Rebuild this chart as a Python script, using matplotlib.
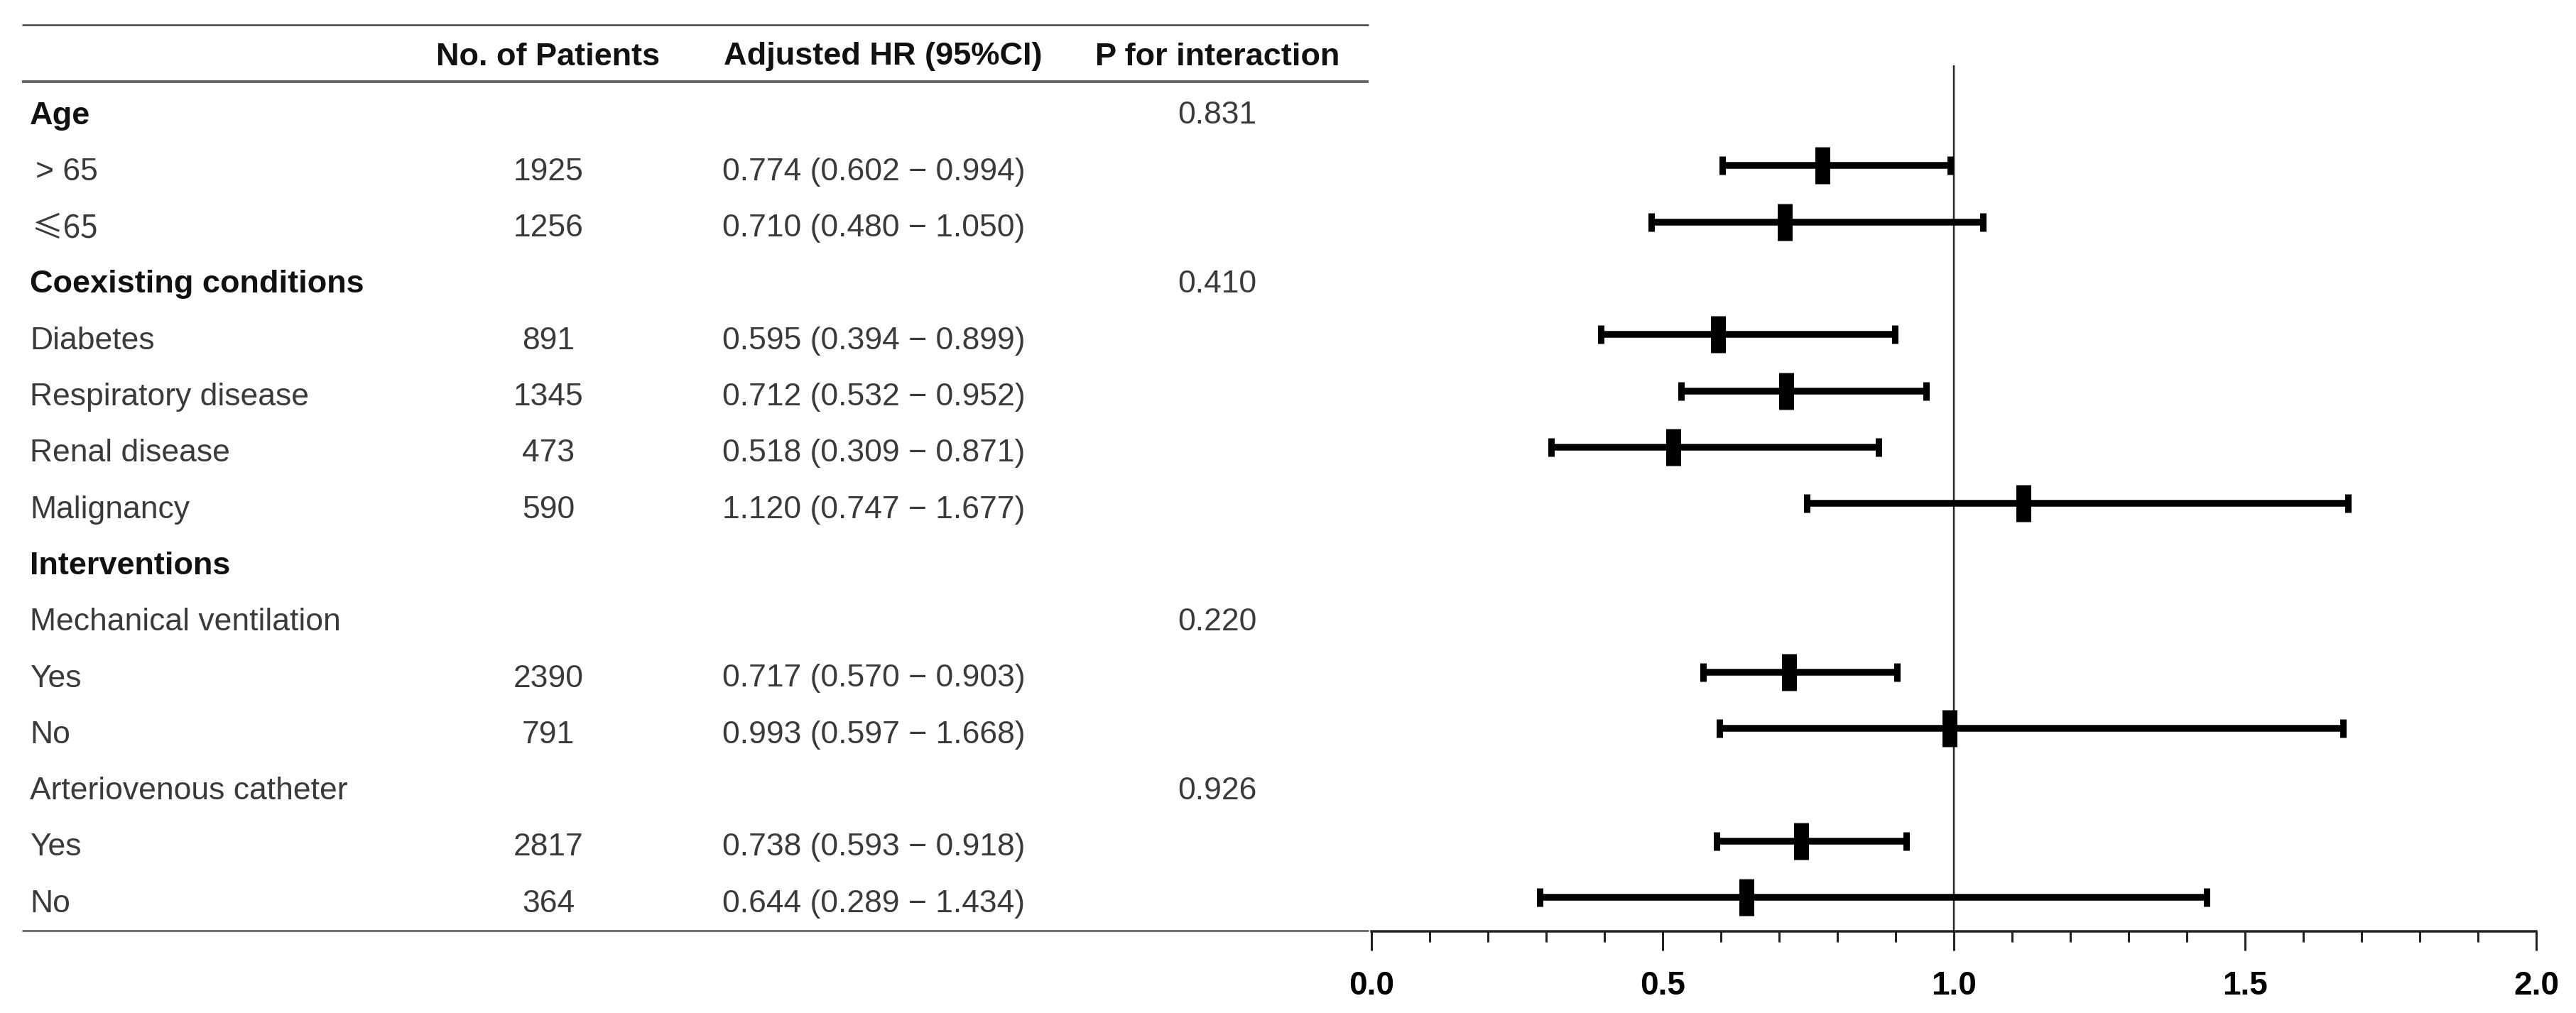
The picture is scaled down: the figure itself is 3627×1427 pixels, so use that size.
import numpy as np
import matplotlib
matplotlib.use("Agg")
import matplotlib.pyplot as plt
from matplotlib.ticker import MultipleLocator

# ---------------- data ----------------
labels = ["Age", "> 65", "≤65", "Coexisting conditions", "Diabetes",
          "Respiratory disease", "Renal disease", "Malignancy", "Interventions",
          "Mechanical ventilation", "Yes", "No", "Arteriovenous catheter", "Yes", "No"]
is_header = [True, False, False, True, False, False, False, False, True,
             False, False, False, False, False, False]
n_patients = ["", "1925", "1256", "", "891", "1345", "473", "590", "", "",
              "2390", "791", "", "2817", "364"]
hr = [np.nan, 0.774, 0.710, np.nan, 0.595, 0.712, 0.518, 1.120, np.nan, np.nan,
      0.717, 0.993, np.nan, 0.738, 0.644]
ci_low = [np.nan, 0.602, 0.480, np.nan, 0.394, 0.532, 0.309, 0.747, np.nan, np.nan,
          0.570, 0.597, np.nan, 0.593, 0.289]
ci_high = [np.nan, 0.994, 1.050, np.nan, 0.899, 0.952, 0.871, 1.677, np.nan, np.nan,
           0.903, 1.668, np.nan, 0.918, 1.434]
p_interaction = ["0.831", "", "", "0.410", "", "", "", "", "", "0.220", "", "",
                 "0.926", "", ""]
col_headers = ["No. of Patients", "Adjusted HR (95%CI)", "P for interaction"]
x_ticks = [0.0, 0.5, 1.0, 1.5, 2.0]

# ---------------- layout ----------------
W, H = 3627, 1427
DPI = 100
fig = plt.figure(figsize=(W / DPI, H / DPI), dpi=DPI)
fig.patch.set_facecolor("white")

ROW0 = 163.0      # pixel y of first row (text centre)
PITCH = 79.3      # pixel row pitch
TXT = "#3a3a3a"
HDR = "#111111"
FS = 32
FS_H = 32.5
FAM = ["Liberation Sans", "DejaVu Sans"]

# table axes in pixel coordinates
tab = fig.add_axes([0, 0, 1, 1])
tab.set_xlim(0, W)
tab.set_ylim(H, 0)
tab.axis("off")

# table rules
tab.plot([31, 1927], [35, 35], color="#444444", lw=1.8, solid_capstyle="butt")
tab.plot([31, 1927], [115, 115], color="#666666", lw=2.8, solid_capstyle="butt")
tab.plot([31, 1927], [1311, 1311], color="#555555", lw=1.8, solid_capstyle="butt")

X_LABEL, X_N, X_HR, X_P = 42, 772, 1017, 1714
hdr_font = dict(family=FAM, fontsize=FS_H, fontweight="bold", color=HDR, va="center")
tab.text(X_N, 80, col_headers[0], ha="center", **hdr_font)
tab.text(X_HR + 2, 80, col_headers[1], ha="left", **hdr_font)
tab.text(X_P, 80, col_headers[2], ha="center", **hdr_font)

for i, lab in enumerate(labels):
    y = ROW0 + PITCH * i
    if is_header[i]:
        tab.text(X_LABEL, y, lab, ha="left", **hdr_font)
    else:
        if lab.startswith(">"):
            tab.text(X_LABEL + 8, y, lab, ha="left", va="center",
                     fontsize=FS, color=TXT, family=FAM)
        elif lab.startswith("≤"):
            tab.text(X_LABEL + 2, y, lab, ha="left", va="center",
                     fontsize=FS, color=TXT, family=["Noto Sans CJK SC", "DejaVu Sans"])
        else:
            tab.text(X_LABEL, y, lab, ha="left", va="center",
                     fontsize=FS, color=TXT, family=FAM)
    if n_patients[i]:
        tab.text(X_N, y, n_patients[i], ha="center", va="center", fontsize=FS,
                 color=TXT, family=FAM)
    if not np.isnan(hr[i]):
        s = f"{hr[i]:.3f} ({ci_low[i]:.3f} \u2212 {ci_high[i]:.3f})"
        tab.text(X_HR, y, s, ha="left", va="center", fontsize=FS, color=TXT,
                 family=FAM)
    if p_interaction[i]:
        tab.text(X_P, y, p_interaction[i], ha="center", va="center", fontsize=FS,
                 color=TXT, family=FAM)

# ---------------- forest axes ----------------
AX_L, AX_R = 1931, 3571
AX_TOP, AX_BOT = 92, 1312
ax = fig.add_axes([AX_L / W, (H - AX_BOT) / H, (AX_R - AX_L) / W, (AX_BOT - AX_TOP) / H])
ax.set_facecolor("none")
CI_OFF = -9.0
y_bot = (AX_BOT - (ROW0 + CI_OFF)) / PITCH
y_top = (AX_TOP - (ROW0 + CI_OFF)) / PITCH
ax.set_ylim(y_bot, y_top)
ax.set_xlim(0, 2.0)

rows = np.arange(len(labels))
hr_a = np.array(hr)
lo_a = np.array(ci_low)
hi_a = np.array(ci_high)
m = ~np.isnan(hr_a)
px = 72.0 / DPI
ax.errorbar(hr_a[m], rows[m], xerr=[hr_a[m] - lo_a[m], hi_a[m] - hr_a[m]],
            fmt="none", ecolor="black", elinewidth=9.5 * px,
            capsize=13.5 * px, capthick=9 * px, zorder=3)
ax.plot(hr_a[m], rows[m], linestyle="none", marker="|", color="black",
        markersize=52 * px, markeredgewidth=21 * px, zorder=4)

ax.axvline(1.0, color="#222222", lw=2.4 * px, zorder=2)

for s in ["left", "right", "top"]:
    ax.spines[s].set_visible(False)
ax.spines["bottom"].set_linewidth(3.5 * px)
ax.spines["bottom"].set_color("#222222")
ax.spines["bottom"].set_bounds(0, 2.0)
ax.set_yticks([])
ax.set_xticks(x_ticks)
ax.set_xticklabels([f"{t:.1f}" for t in x_ticks])
ax.xaxis.set_minor_locator(MultipleLocator(0.1))
ax.tick_params(axis="x", which="major", length=27 * px, width=3 * px,
               color="#222222", pad=20, labelsize=33)
ax.tick_params(axis="x", which="minor", length=15 * px, width=3 * px, color="#222222")
for lbl in ax.get_xticklabels():
    lbl.set_fontfamily(FAM)
    lbl.set_fontweight("bold")
    lbl.set_color("black")

fig.savefig("out.png", dpi=DPI, facecolor="white")
